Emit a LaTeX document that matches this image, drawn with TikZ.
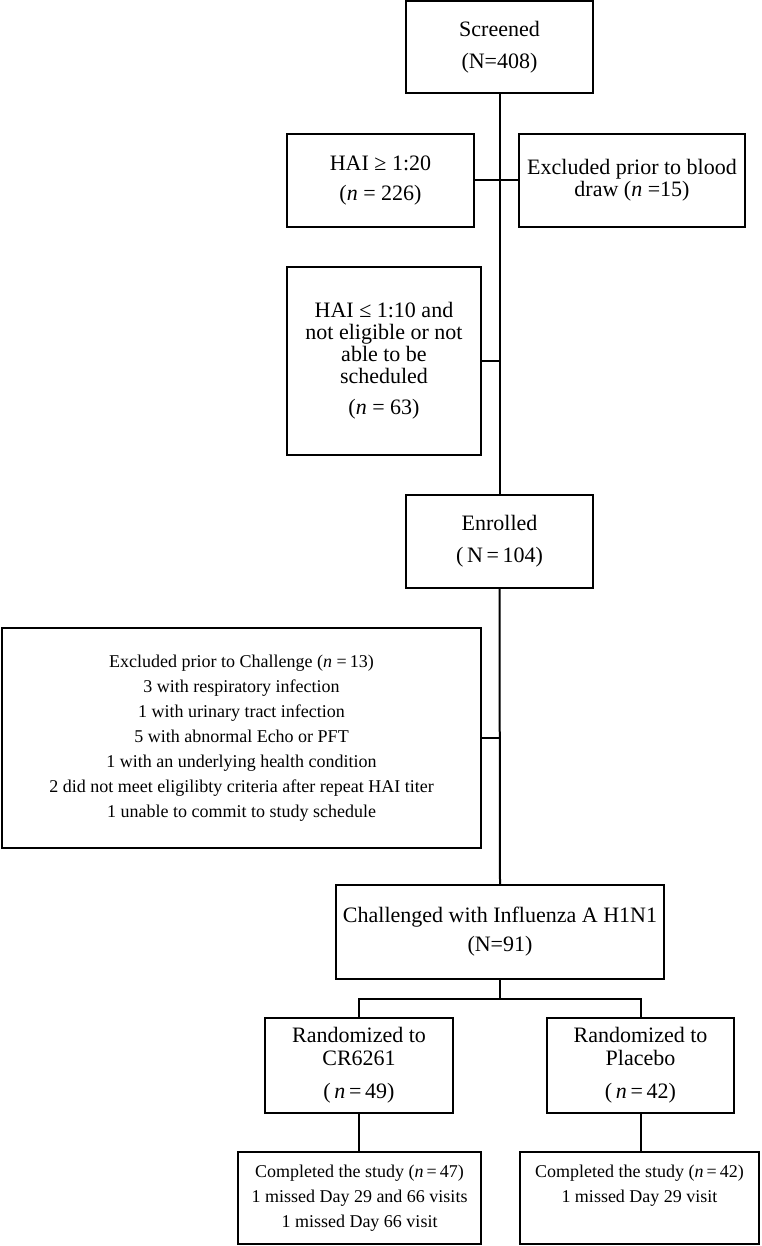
\documentclass[tikz,border=0pt]{standalone}
\usepackage{fontspec}
\setmainfont{Liberation Serif}
\begin{document}
\begin{tikzpicture}[x=1pt,y=-1pt,
  box/.style={draw,line width=2pt,inner sep=0pt,align=center},
  big/.style={font=\fontsize{22}{#1}\selectfont},
  small/.style={font=\fontsize{18}{25}\selectfont},
  conn/.style={line width=2pt}]
\useasboundingbox (0,0) rectangle (762,1246);
\node[box,big=32,minimum width=187,minimum height=92] (scr) at (499.5,47) {Screened\\(N=408)};
\node[box,big=30,minimum width=187,minimum height=93] (hai20) at (380.5,180.5) {HAI ≥ 1:20\\(\textit{n} = 226)};
\node[box,big=22,minimum width=226,minimum height=93] (exb) at (632,180.5) {Excluded prior to blood\\draw (\textit{n} =15)\rule[-6pt]{0pt}{6pt}};
\node[box,big=22,minimum width=194,minimum height=188] (hai10) at (384,361) {HAI ≤ 1:10 and\\not eligible or not\\able to be\\scheduled\\[9pt](\textit{n} = 63)};
\node[box,big=32,minimum width=187,minimum height=93] (enr) at (499.5,541.5) {Enrolled\\(\,N\,=\,104)};
\node[box,small,minimum width=479,minimum height=220] (exc) at (241.5,738) {Excluded prior to Challenge (\textit{n} =\,13)\\3 with respiratory infection\\1 with urinary tract infection\\5 with abnormal Echo or PFT\\1 with an underlying health condition\\2 did not meet eligilibty criteria after repeat HAI titer\\1 unable to commit to study schedule};
\node[box,big=29,minimum width=328,minimum height=94] (chal) at (500,932) {Challenged with Influenza A H1N1\\(N=91)};
\node[box,big=23,minimum width=188,minimum height=95] (rcr) at (359,1065.5) {Randomized to\\CR6261\\[10pt](\,\textit{n}\,=\,49)};
\node[box,big=23,minimum width=187,minimum height=95] (rpl) at (640.5,1065.5) {Randomized to\\Placebo\\[10pt](\,\textit{n}\,=\,42)};
\node[box,small,minimum width=243,minimum height=92] (ccr) at (359.5,1198) {Completed the study (\textit{n}\,=\,47)\\1 missed Day 29 and 66 visits\\1 missed Day 66 visit};
\node[box,small,minimum width=239,minimum height=92] (cpl) at (639.5,1198) {Completed the study (\textit{n}\,=\,42)\\1 missed Day 29 visit\\\phantom{Day}};
\coordinate (br) at (500,999);
\draw[conn] (scr.south) -- (enr.north);
\draw[conn] (enr.south) -- (chal.north);
\draw[conn] (hai20.east) -- (exb.west);
\draw[conn] (hai10.east) -- (hai10.east -| scr.south);
\draw[conn] (exc.east) -- (exc.east -| enr.south);
\draw[conn] (chal.south) -- (br);
\draw[conn] (rcr.north) -- (rcr.north |- br) -- (rpl.north |- br) -- (rpl.north);
\draw[conn] (rcr.south) -- (rcr.south |- ccr.north);
\draw[conn] (rpl.south) -- (rpl.south |- cpl.north);
\end{tikzpicture}
\end{document}
